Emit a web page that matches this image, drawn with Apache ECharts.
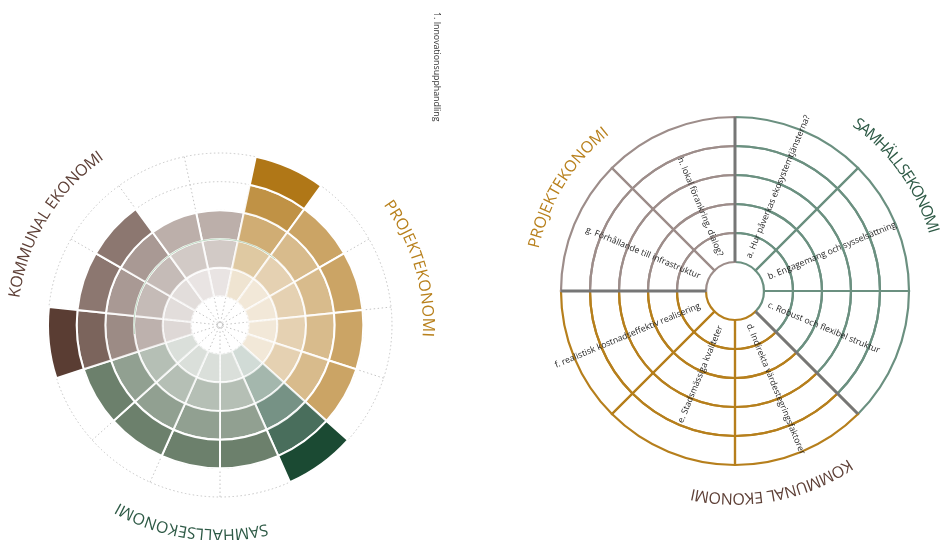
<!DOCTYPE html>
<html><head><meta charset="utf-8">
<script src="https://cdn.jsdelivr.net/npm/echarts@6/dist/echarts.min.js"></script>
<style>html,body{margin:0;padding:0;background:#fff}#c{width:942px;height:540px}</style>
</head><body><div id="c"></div>
<script>
// ---------- Left chart data (15 sectors, clockwise from top) ----------
const leftSectors = ['K5','P1','P2','P3','P4','P5','S1','S2','S3','S4','S5','K1','K2','K3','K4'];
const leftGroups  = ['K','P','P','P','P','P','S','S','S','S','S','K','K','K','K'];
const leftScores  = [4, 6, 5, 5, 5, 5, 6, 5, 5, 5, 5, 6, 5, 5, 4];
const leftLevels  = 6;
const leftGroupLabels = { K: 'KOMMUNAL EKONOMI', P: 'PROJEKTEKONOMI', S: 'SAMHÄLLSEKONOMI' };

// ---------- Right chart data (8 sectors, clockwise from top) ----------
const rightCategories = [
  'a. Hur påverkas ekosystemtjänsterna?',
  'b. Engagemang och sysselsättning',
  'c. Robust och flexibel struktur',
  'd. Indirekta värdestegringsfaktorer',
  'e. Stadsmässiga kvaliteter',
  'f. realistisk kostnadseffektiv realisering',
  'g. Förhållande till infrastruktur',
  'h. lokal förankring, dialog?'
];
const rightLineGroups = ['S','S','S','P','P','P','K','K'];
const rightRings = 5;
const groupBoundaries = [0, 135, 270];
const rightGroupLabels = ['SAMHÄLLSEKONOMI', 'KOMMUNAL EKONOMI', 'PROJEKTEKONOMI'];
const noteText = '1. Innovationsupphandling';

// ---------- Styles ----------
const shade = {
  K: {4: [188,175,170], 5: [140,119,112], 6: [90,61,51]},
  P: {5: [203,164,101], 6: [176,119,23]},
  S: {5: [108,128,108], 6: [27,74,51]}
};
const lineColor = { S: '#6b9080', P: '#b67f1c', K: '#9d8d8a' };
const labelColor = { K: '#5e4037', P: '#b8801c', S: '#2e5a46' };
const LC = [220, 325], LR = 172;
const RC = [735, 291], RR = [29, 174];
const dotted = { color: '#c4c4c4', width: 1, type: [1.5, 2.5] };

const chart = echarts.init(document.getElementById('c'), null, { renderer: 'canvas' });

const series = [];
for (let k = 0; k < leftLevels; k++) {
  series.push({
    type: 'bar', coordinateSystem: 'polar', polarIndex: 0, stack: 'L',
    barCategoryGap: '0%', silent: true,
    data: leftScores.map((s, i) => {
      if (k === 0) return { value: 1, itemStyle: { color: 'rgba(0,0,0,0)', borderWidth: 0 } };
      if (k >= s) return '-';
      const a = k / (s - 1);
      const c = shade[leftGroups[i]][s];
      return { value: 1, itemStyle: {
        color: 'rgba(' + c.join(',') + ',' + a.toFixed(3) + ')',
        borderColor: 'rgba(255,255,255,' + (0.55 + 0.45 * a).toFixed(3) + ')',
        borderWidth: 2 } };
    })
  });
}
for (let k = 0; k < rightRings; k++) {
  series.push({
    type: 'bar', coordinateSystem: 'polar', polarIndex: 1, stack: 'R',
    barCategoryGap: '0%', silent: true,
    data: rightCategories.map((c, i) => ({ value: 1, itemStyle: { color: 'rgba(0,0,0,0)', borderColor: lineColor[rightLineGroups[i]], borderWidth: 2.2 } }))
  });
}
groupBoundaries.forEach(a => {
  series.push({
    type: 'line', coordinateSystem: 'polar', polarIndex: 2, symbol: 'none', silent: true, z: 5,
    data: [[0, a], [rightRings, a]], lineStyle: { color: '#767676', width: 2.8 }
  });
});

chart.setOption({
  animation: false,
  polar: [
    { center: LC, radius: [0, LR] },
    { center: RC, radius: RR },
    { center: RC, radius: RR }
  ],
  angleAxis: [
    { polarIndex: 0, type: 'category', data: leftSectors, startAngle: 90 + 180 / leftSectors.length,
      axisLine: { show: false }, axisTick: { show: false }, axisLabel: { show: false },
      splitLine: { show: true, lineStyle: dotted } },
    { polarIndex: 1, type: 'category', data: rightCategories, startAngle: 90, show: false },
    { polarIndex: 2, type: 'value', min: 0, max: 360, startAngle: 90, show: false }
  ],
  radiusAxis: [
    { polarIndex: 0, type: 'value', min: 0, max: leftLevels, interval: 1,
      axisLine: { show: false }, axisTick: { show: false }, axisLabel: { show: false },
      splitLine: { show: true, lineStyle: dotted } },
    { polarIndex: 1, type: 'value', min: 0, max: rightRings, show: false },
    { polarIndex: 2, type: 'value', min: 0, max: rightRings, show: false }
  ],
  series: series
});

// ---------- Annotations ----------
const mctx = document.createElement('canvas').getContext('2d');
const FONT = '"Open Sans", "DejaVu Sans", sans-serif';
function arcText(text, cx, cy, r, a0, a1, color, size) {
  mctx.font = size + 'px ' + FONT;
  const chars = Array.from(text);
  const w = chars.map(ch => mctx.measureText(ch).width);
  const centers = []; let acc = 0;
  w.forEach(x => { centers.push(acc + x / 2); acc += x; });
  const c0 = centers[0], cl = centers[centers.length - 1];
  return chars.map((ch, i) => {
    const th = (a0 + (centers[i] - c0) / (cl - c0) * (a1 - a0)) * Math.PI / 180;
    return {
      type: 'text', x: cx + r * Math.sin(th), y: cy - r * Math.cos(th), rotation: -th, silent: true, z: 10,
      style: { text: ch, fill: color, font: size + 'px ' + FONT, align: 'center', verticalAlign: 'middle' }
    };
  });
}

const graphic = [];
// left chart group labels
graphic.push(...arcText(leftGroupLabels.K, LC[0], LC[1], 207, 279, 324.5, labelColor.K, 16));
graphic.push(...arcText(leftGroupLabels.P, LC[0], LC[1], 207.5, 55, 92.7, labelColor.P, 16));
graphic.push(...arcText(leftGroupLabels.S, LC[0], LC[1], 209, 168, 209, labelColor.S, 16));
// right chart group labels
graphic.push(...arcText(rightGroupLabels[0], RC[0], RC[1], 207, 36.5, 73, labelColor.S, 16));
graphic.push(...arcText(rightGroupLabels[1], RC[0], RC[1], 207, 147.4, 191.7, labelColor.K, 16));
graphic.push(...arcText(rightGroupLabels[2], RC[0], RC[1], 205.5, 283.5, 320.7, labelColor.P, 16));

// left chart centre mark and faint arc
const lc = chart.convertToPixel({ polarIndex: 0 }, [0, 0]);
const l3 = chart.convertToPixel({ polarIndex: 0 }, [3, 0]);
const r3 = Math.hypot(l3[0] - lc[0], l3[1] - lc[1]);
graphic.push({ type: 'circle', silent: true, z: 10, shape: { cx: lc[0], cy: lc[1], r: 2.5 },
  style: { fill: null, stroke: '#bdbdbd', lineWidth: 1, lineDash: [1, 1] } });
graphic.push({ type: 'arc', silent: true, z: 10,
  shape: { cx: lc[0], cy: lc[1], r: r3, startAngle: (264 - 90) * Math.PI / 180, endAngle: (400 - 90) * Math.PI / 180, clockwise: true },
  style: { fill: null, stroke: 'rgba(140,190,150,0.55)', lineWidth: 1 } });

// right chart radial labels
rightCategories.forEach((t, i) => {
  const p = chart.convertToPixel({ polarIndex: 1 }, [0, i]);
  const dx = p[0] - RC[0], dy = p[1] - RC[1];
  const len = Math.hypot(dx, dy);
  const th = Math.atan2(dx, -dy); // clockwise from top
  const outward = th > -1e-6 && th < Math.PI;
  const rr = outward ? 36 : 38;
  const rot = outward ? (Math.PI / 2 - th) : (3 * Math.PI / 2 - th);
  graphic.push({
    type: 'text', x: RC[0] + dx / len * rr, y: RC[1] + dy / len * rr, rotation: rot, silent: true, z: 10,
    style: { text: t, fill: '#1e1e1e', font: '8.7px ' + FONT, align: outward ? 'left' : 'right', verticalAlign: 'middle' }
  });
});

// note text
graphic.push({ type: 'text', x: 437, y: 12, rotation: -Math.PI / 2, silent: true, z: 10,
  style: { text: noteText, fill: '#333', font: '8.8px ' + FONT, align: 'left', verticalAlign: 'middle' } });

chart.setOption({ graphic: graphic });
</script>
</body></html>
